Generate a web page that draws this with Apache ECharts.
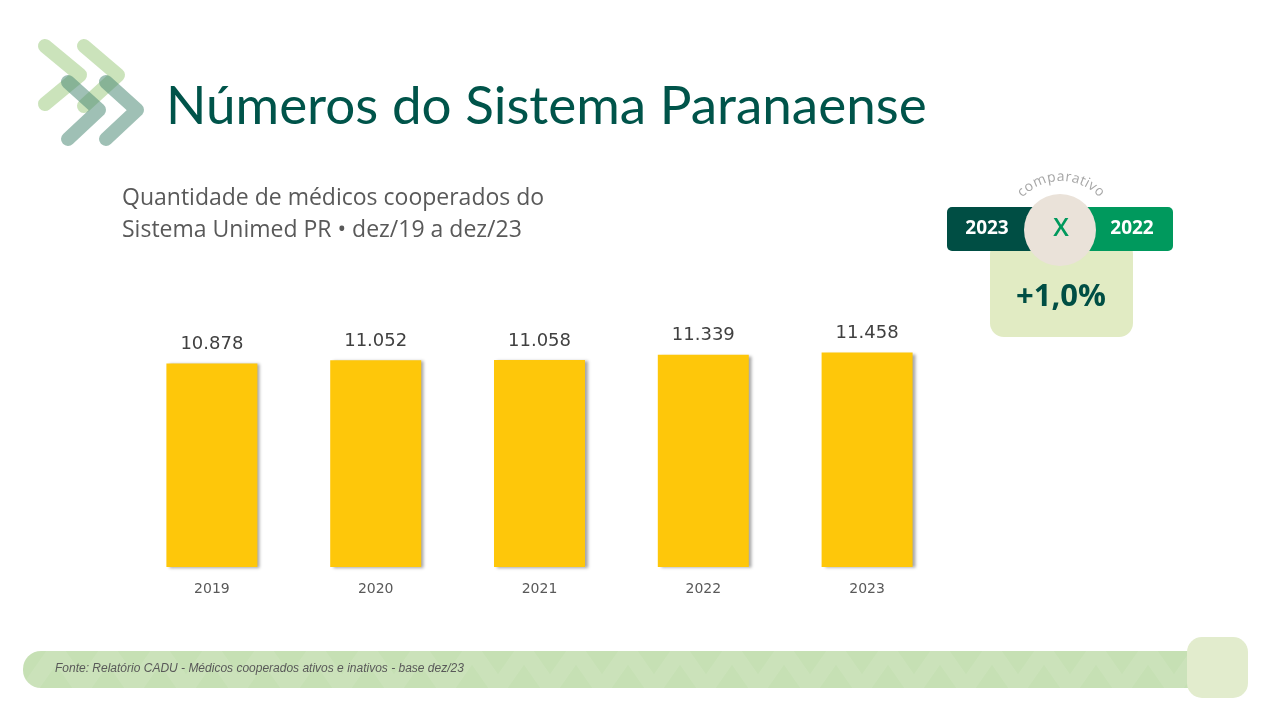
<!DOCTYPE html>
<html>
<head>
<meta charset="utf-8">
<script src="https://cdn.jsdelivr.net/npm/echarts@6/dist/echarts.min.js"></script>
<style>
html,body{margin:0;padding:0;background:#fff;}
#chart{width:1280px;height:720px;}
</style>
</head>
<body>
<div id="chart"></div>
<script>
const categories = ['2019', '2020', '2021', '2022', '2023'];
const doctors = [10878, 11052, 11058, 11339, 11458];
const titleText = 'Números do Sistema Paranaense';
const subtitleLines = ['Quantidade de médicos cooperados do', 'Sistema Unimed PR • dez/19 a dez/23'];
const compareYears = ['2023', '2022'];
const compareChange = '+1,0%';
const sourceText = 'Fonte: Relatório CADU - Médicos cooperados ativos e inativos - base dez/23';

function fmt(v) { return String(v).replace(/\B(?=(\d{3})+(?!\d))/g, '.'); }

const chart = echarts.init(document.getElementById('chart'));

// arc text "comparativo", spaced by measured glyph widths
const arcWord = 'comparativo';
const arcFont = '14px "Open Sans", sans-serif';
const ctx = document.createElement('canvas').getContext('2d');
ctx.font = arcFont;
const widths = arcWord.split('').map(c => ctx.measureText(c).width);
const total = widths.reduce((a, b) => a + b, 0);
const acx = 1061, acy = 234, ar = 50;
const arcEls = [];
let acc = -total / 2;
for (let i = 0; i < arcWord.length; i++) {
  const mid = acc + widths[i] / 2;
  acc += widths[i];
  const th = mid / ar;
  arcEls.push({
    type: 'text', x: acx + ar * Math.sin(th), y: acy - ar * Math.cos(th), rotation: -th,
    style: { text: arcWord[i], x: 0, y: 0, align: 'center', verticalAlign: 'bottom',
      fill: '#A6A6A6', font: arcFont }, z: 20
  });
}

// footer subtle chevron pattern
const zig = [];
for (let x = 30; x < 1200; x += 52) {
  zig.push([x, 688]); zig.push([x + 26, 651]);
}
zig.push([1212, 688]);

const logoLight = 'rgba(169,209,142,0.6)';
const logoGray = 'rgba(80,140,120,0.55)';
const lw = 14;

const option = {
  backgroundColor: '#ffffff',
  animation: false,
  grid: { left: 130, right: 331, top: 305, bottom: 153 },
  xAxis: {
    type: 'category', data: categories,
    axisLine: { show: false }, axisTick: { show: false },
    axisLabel: { color: '#595959', fontSize: 14, fontFamily: 'DejaVu Sans', margin: 15 }
  },
  yAxis: { type: 'value', min: 0, max: 14000, show: false, splitLine: { show: false } },
  series: [{
    type: 'bar', data: doctors, barWidth: 91,
    itemStyle: { color: '#FEC70A', shadowColor: 'rgba(0,0,0,0.35)', shadowBlur: 3, shadowOffsetX: 3, shadowOffsetY: 1 },
    label: { show: true, position: 'top', distance: 10, color: '#404040', fontSize: 18, fontFamily: 'DejaVu Sans',
      formatter: p => fmt(p.value) }
  }],
  graphic: [
    // logo
    { type: 'polyline', shape: { points: [[45, 46], [80, 75], [45, 104]] }, style: { stroke: logoLight, lineWidth: lw, lineCap: 'round', lineJoin: 'round', fill: null }, z: 5 },
    { type: 'polyline', shape: { points: [[84, 46], [118, 75], [84, 106]] }, style: { stroke: logoLight, lineWidth: lw, lineCap: 'round', lineJoin: 'round', fill: null }, z: 5 },
    { type: 'polyline', shape: { points: [[68, 82], [99, 110], [68, 139]] }, style: { stroke: logoGray, lineWidth: lw, lineCap: 'round', lineJoin: 'round', fill: null }, z: 6 },
    { type: 'polyline', shape: { points: [[106, 82], [137, 110], [106, 139]] }, style: { stroke: logoGray, lineWidth: lw, lineCap: 'round', lineJoin: 'round', fill: null }, z: 6 },
    // title
    { type: 'text', x: 166, y: 107, style: { text: titleText, fill: '#00544A', font: '53px Lato, sans-serif', verticalAlign: 'middle' }, z: 10 },
    // subtitle
    { type: 'text', x: 122, y: 198, style: { text: subtitleLines[0], fill: '#595959', font: '23px "Open Sans", sans-serif', verticalAlign: 'middle' }, z: 10 },
    { type: 'text', x: 122, y: 230, style: { text: subtitleLines[1], fill: '#595959', font: '23px "Open Sans", sans-serif', verticalAlign: 'middle' }, z: 10 },
    // comparison badge
    { type: 'rect', shape: { x: 990, y: 240, width: 143, height: 97, r: 14 }, style: { fill: '#E1EBC3' }, z: 10 },
    { type: 'rect', shape: { x: 947, y: 207, width: 110, height: 44, r: 5 }, style: { fill: '#004E44' }, z: 11 },
    { type: 'rect', shape: { x: 1063, y: 207, width: 110, height: 44, r: 5 }, style: { fill: '#00995D' }, z: 11 },
    { type: 'circle', shape: { cx: 1060, cy: 230, r: 36 }, style: { fill: '#EAE2D9' }, z: 12 },
    { type: 'text', x: 987, y: 229, style: { text: compareYears[0], fill: '#ffffff', font: 'bold 19px "Open Sans", sans-serif', align: 'center', verticalAlign: 'middle' }, z: 13 },
    { type: 'text', x: 1132, y: 229, style: { text: compareYears[1], fill: '#ffffff', font: 'bold 19px "Open Sans", sans-serif', align: 'center', verticalAlign: 'middle' }, z: 13 },
    { type: 'text', x: 1061, y: 229, style: { text: 'X', fill: '#00995D', font: '600 25px "Open Sans", sans-serif', align: 'center', verticalAlign: 'middle' }, z: 13 },
    { type: 'text', x: 1061, y: 297, style: { text: compareChange, fill: '#004E44', font: 'bold 31px "Open Sans", sans-serif', align: 'center', verticalAlign: 'middle' }, z: 13 },
    ...arcEls,
    // footer
    { type: 'rect', shape: { x: 23, y: 651, width: 1180, height: 37, r: [18, 0, 0, 18] }, style: { fill: '#C6E0B4' }, z: 1 },
    { type: 'polyline', shape: { points: zig }, style: { stroke: 'rgba(255,255,255,0.09)', lineWidth: 16, fill: null }, z: 2 },
    { type: 'rect', shape: { x: 1187, y: 637, width: 61, height: 61, r: 15 }, style: { fill: '#E2ECCD' }, z: 3 },
    { type: 'text', x: 55, y: 669, style: { text: sourceText, fill: '#595959', font: 'italic 12px "Liberation Sans", sans-serif', verticalAlign: 'middle' }, z: 4 }
  ]
};
chart.setOption(option);
</script>
</body>
</html>
